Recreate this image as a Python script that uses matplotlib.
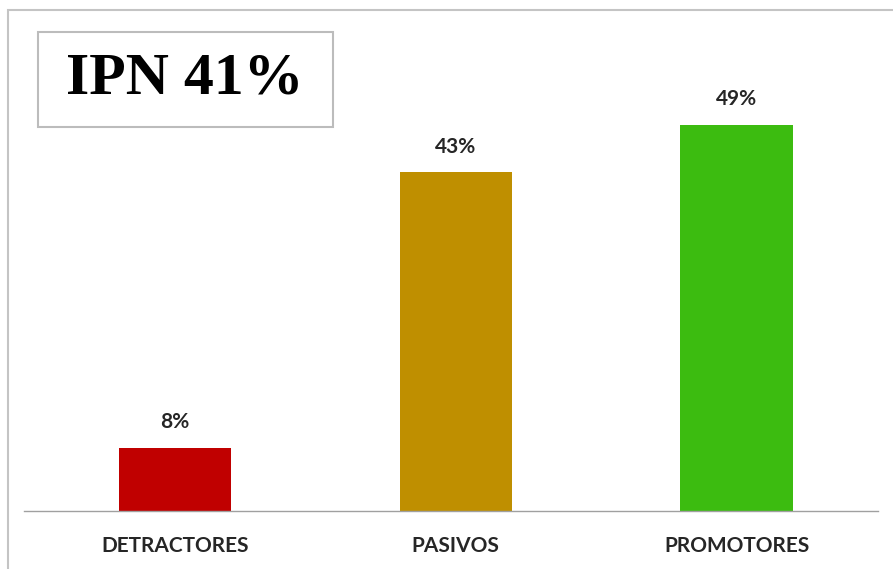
import matplotlib.pyplot as plt
from matplotlib.patches import Rectangle

categories = ["DETRACTORES", "PASIVOS", "PROMOTORES"]
values = [8, 43, 49]
colors = ["#c00000", "#bf8f00", "#3cbc10"]
ipn_label = "IPN 41%"

W, H = 893, 569
fig = plt.figure(figsize=(W / 100, H / 100), dpi=100)

# outer chart frame (only top and left edges show)
fig.patches.append(Rectangle((8 / W, -0.1), 1.1, (H - 10) / H + 0.1,
                             transform=fig.transFigure, fill=False,
                             edgecolor="#c4c4c4", linewidth=1.5))

ax = fig.add_axes([24 / W, 58 / H, (878 - 24) / W, (511 - 10) / H])
x = range(len(categories))
bars = ax.bar(x, values, width=0.40, color=colors)
ax.set_xlim(-0.538, 2.504)
ax.set_ylim(0, 63.6)

for rect, v in zip(bars, values):
    ax.annotate(f"{v}%", (rect.get_x() + rect.get_width() / 2, v),
                xytext=(0, 18.5), textcoords="offset points",
                ha="center", va="center", fontsize=15,
                fontweight="bold", family="Lato", color="#262626")

for s in ["top", "right", "left"]:
    ax.spines[s].set_visible(False)
ax.spines["bottom"].set_color("#a0a0a0")
ax.spines["bottom"].set_linewidth(1.0)
ax.set_yticks([])
ax.set_xticks(list(x))
ax.set_xticklabels(categories, fontsize=15, fontweight="bold",
                   family="Lato", color="#262626")
ax.tick_params(axis="x", length=0, pad=18)

# IPN score box
fig.patches.append(Rectangle((38 / W, 1 - 127 / H), (333 - 38) / W, 95 / H,
                             transform=fig.transFigure, facecolor="white",
                             edgecolor="#bcbcbc", linewidth=1.5))
fig.text(185 / W, 1 - 80 / H, ipn_label, ha="center", va="center",
         fontsize=43, fontweight="bold", family="Liberation Serif")

plt.savefig("out.png", dpi=100)
